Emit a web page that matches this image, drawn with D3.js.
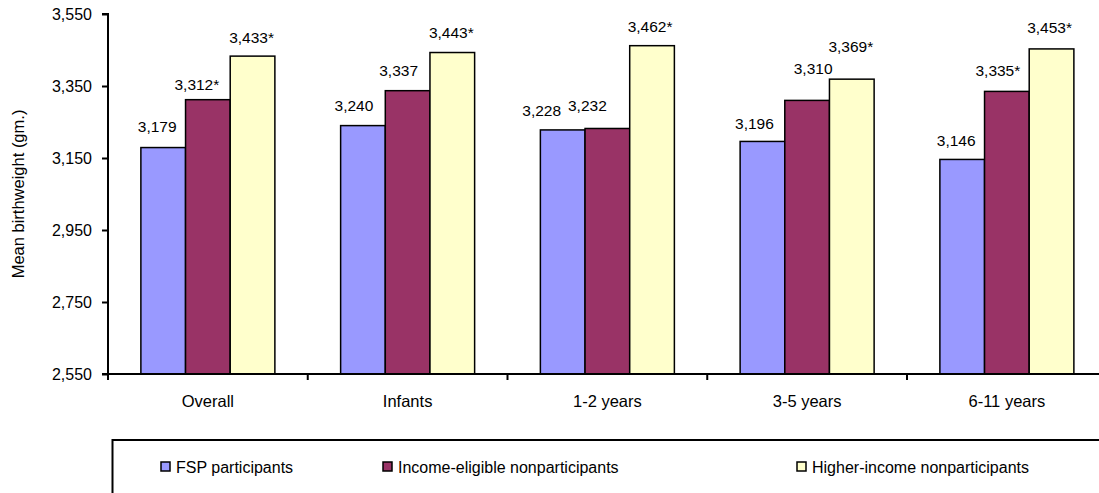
<!DOCTYPE html>
<html>
<head>
<meta charset="utf-8">
<script src="https://cdn.jsdelivr.net/npm/d3@7"></script>
<style>
  html, body { margin: 0; padding: 0; background: #fff; }
  svg { display: block; font-family: Arial, "Liberation Sans", sans-serif; }
</style>
</head>
<body>
<svg id="chart" width="1099" height="493"></svg>
<script>
// Mean birthweight by age group and FSP participation status
const categories = ["Overall", "Infants", "1-2 years", "3-5 years", "6-11 years"];
const seriesNames = ["FSP participants", "Income-eligible nonparticipants", "Higher-income nonparticipants"];
const fspParticipants = [3179, 3240, 3228, 3196, 3146];
const incomeEligible = [3312, 3337, 3232, 3310, 3335];
const higherIncome = [3433, 3443, 3462, 3369, 3453];
// significance markers appended to value labels
const incomeEligibleSig = [true, false, false, false, true];
const higherIncomeSig = [true, true, true, true, true];
const yTicks = [2550, 2750, 2950, 3150, 3350, 3550];

const seriesValues = [fspParticipants, incomeEligible, higherIncome];
const seriesSig = [[false, false, false, false, false], incomeEligibleSig, higherIncomeSig];
const colors = ["#9999FF", "#993366", "#FFFFCC"];

// hand-placed value labels: [horizontal shift from bar centre, gap above bar top]
const labelPlacement = [
  [[-6, 16], [-11, 10], [-1, 13.5]],
  [[-9, 14.5], [-9, 14.7], [-1, 15]],
  [[-21, 14], [-20, 17], [-2, 14]],
  [[-8, 12], [6, 26], [-1, 27]],
  [[-6, 13.5], [-9, 15.4], [-2, 15.6]]
];

const svg = d3.select("#chart");
const plotLeft = 108, plotTop = 14, plotBottom = 374;
const band = 199.75;
const plotRight = plotLeft + band * categories.length;

const y = d3.scaleLinear().domain([2550, 3550]).range([plotBottom, plotTop]);
const x0 = d3.scaleBand().domain(categories).range([plotLeft, plotRight]).paddingInner(0).paddingOuter(0);
const groupWidth = 134;
const x1 = d3.scaleBand().domain(d3.range(seriesNames.length))
  .range([(band - groupWidth) / 2, (band + groupWidth) / 2]).padding(0);

const fmt = d3.format(",");

// bars
const groups = svg.append("g").selectAll("g")
  .data(categories).join("g")
  .attr("transform", d => `translate(${x0(d)},0)`);

groups.selectAll("rect")
  .data((c, i) => seriesValues.map((vals, s) => ({ s, v: vals[i] })))
  .join("rect")
  .attr("x", d => x1(d.s))
  .attr("y", d => y(d.v))
  .attr("width", x1.bandwidth())
  .attr("height", d => plotBottom - y(d.v))
  .attr("fill", d => colors[d.s])
  .attr("stroke", "#000")
  .attr("stroke-width", 1.5);

// value labels
groups.selectAll("text")
  .data((c, i) => seriesValues.map((vals, s) => ({ s, i, v: vals[i], sig: seriesSig[s][i] })))
  .join("text")
  .attr("x", d => x1(d.s) + x1.bandwidth() / 2 + labelPlacement[d.i][d.s][0])
  .attr("y", d => y(d.v) - labelPlacement[d.i][d.s][1])
  .attr("text-anchor", "middle")
  .attr("font-size", "15.5px")
  .attr("fill", "#000")
  .text(d => fmt(d.v) + (d.sig ? "*" : ""));

// y axis
const yAxis = d3.axisLeft(y).tickValues(yTicks).tickFormat(fmt).tickSize(6).tickPadding(10);
const yg = svg.append("g").attr("transform", `translate(${plotLeft},0)`).call(yAxis);
yg.select(".domain").attr("stroke", "#000").attr("stroke-width", 2).attr("d", `M-6,${plotTop}H0V${plotBottom}`);
yg.selectAll(".tick line").attr("stroke", "#000").attr("stroke-width", 2);
yg.selectAll(".tick text").attr("font-size", "16px").attr("fill", "#000").attr("font-family", "Arial, 'Liberation Sans', sans-serif");

// x axis with ticks between categories
const xg = svg.append("g").attr("transform", `translate(0,${plotBottom})`);
xg.append("line").attr("x1", plotLeft - 6).attr("x2", plotRight).attr("y1", 0).attr("y2", 0)
  .attr("stroke", "#000").attr("stroke-width", 2);
xg.selectAll("line.tk").data(d3.range(categories.length + 1)).join("line")
  .attr("class", "tk")
  .attr("x1", i => plotLeft + i * band).attr("x2", i => plotLeft + i * band)
  .attr("y1", 0).attr("y2", 6)
  .attr("stroke", "#000").attr("stroke-width", 2);
xg.selectAll("text").data(categories).join("text")
  .attr("x", d => x0(d) + band / 2)
  .attr("y", 33)
  .attr("text-anchor", "middle")
  .attr("font-size", "16.5px")
  .attr("fill", "#000")
  .text(d => d);

// y axis title
svg.append("text")
  .attr("transform", `translate(24,${(plotTop + plotBottom) / 2}) rotate(-90)`)
  .attr("text-anchor", "middle")
  .attr("font-size", "16.5px")
  .attr("fill", "#000")
  .text("Mean birthweight (gm.)");

// legend
const legend = svg.append("g");
legend.append("rect")
  .attr("x", 112.5).attr("y", 440).attr("width", 1100).attr("height", 100)
  .attr("fill", "none").attr("stroke", "#000").attr("stroke-width", 2);
const legendX = [161, 383, 797];
const items = legend.selectAll("g.item").data(seriesNames).join("g")
  .attr("class", "item")
  .attr("transform", (d, i) => `translate(${legendX[i]},467)`);
items.append("rect")
  .attr("x", 0).attr("y", -5).attr("width", 9).attr("height", 9)
  .attr("fill", (d, i) => colors[i]).attr("stroke", "#000").attr("stroke-width", 1.5);
items.append("text")
  .attr("x", 15).attr("y", 6)
  .attr("font-size", "16px")
  .attr("fill", "#000")
  .text(d => d);
</script>
</body>
</html>
